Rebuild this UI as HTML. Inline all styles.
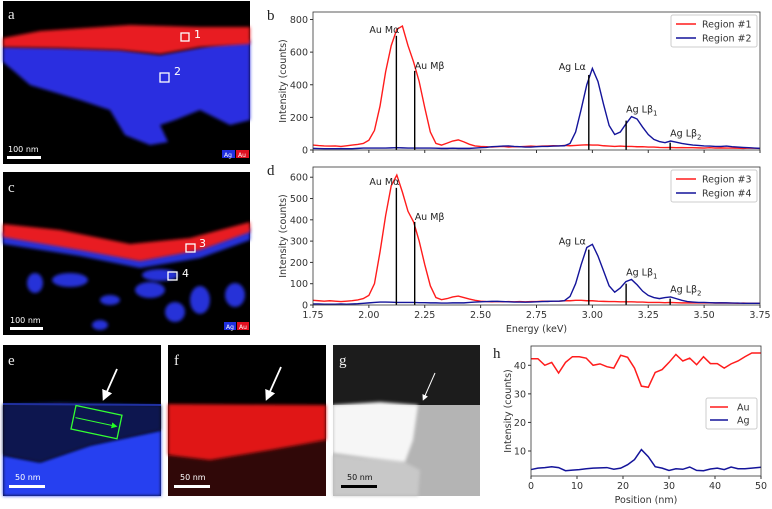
<!DOCTYPE html>
<html><head><meta charset="utf-8"><style>
body{margin:0;background:#fff;width:772px;height:509px;overflow:hidden}
svg{display:block;font-family:"DejaVu Sans","Liberation Sans",sans-serif}
.tk{font-size:9.5px;fill:#333}
.lt{font-family:"Liberation Serif",serif;font-size:15px;fill:#222}
.il{font-family:"Liberation Serif",serif;font-size:15px;fill:#eee}
</style></head><body>
<svg id="fig" width="772" height="509" viewBox="0 0 772 509">
<defs>
<filter id="bl" x="-10%" y="-10%" width="120%" height="120%"><feGaussianBlur stdDeviation="1.5"/></filter>
<filter id="bl3"><feGaussianBlur stdDeviation="3"/></filter>
<marker id="ah" markerWidth="6" markerHeight="6" refX="3" refY="3" orient="auto"><path d="M0,0L6,3L0,6z" fill="#fff"/></marker>
<marker id="ag" markerWidth="6" markerHeight="6" refX="3" refY="3" orient="auto"><path d="M0,0L6,3L0,6z" fill="#2f2"/></marker>
</defs>
<!-- panel a -->
<g>
<rect x="3" y="1" width="247" height="163" fill="#000"/>
<polygon filter="url(#bl)" fill="#2a2ee0" points="3,47 60,48 120,50 160,55 215,45 250,40 250,120 230,125 200,110 175,120 160,125 168,142 150,145 125,135 110,110 80,100 30,85 15,72 3,62"/>
<polygon filter="url(#bl)" fill="#e81a22" points="3,38 40,31 130,25 200,27 250,27 250,44 200,47 160,54 120,50 60,48 3,47"/>
<rect x="181" y="33" width="8" height="8" fill="none" stroke="#fff" stroke-width="1.3"/>
<text x="194" y="38" class="tk" style="fill:#fff;font-size:11px">1</text>
<rect x="160" y="73" width="9" height="9" fill="none" stroke="#fff" stroke-width="1.3"/>
<text x="174" y="75" class="tk" style="fill:#fff;font-size:11px">2</text>
<text x="8" y="19" class="il">a</text>
<rect x="7" y="156" width="34" height="3" fill="#fff"/>
<text x="8" y="152" class="tk" style="fill:#fff;font-size:8px">100 nm</text>
<rect x="222" y="150" width="13" height="8" fill="#2030e0"/><text x="224" y="157" style="fill:#fff;font-size:6px">Ag</text>
<rect x="236" y="150" width="13" height="8" fill="#e01020"/><text x="238" y="157" style="fill:#fff;font-size:6px">Au</text>
</g>
<!-- panel c -->
<g>
<rect x="3" y="172" width="247" height="163" fill="#000"/>
<g filter="url(#bl)" fill="#2530d8">
<polygon points="3,232 80,246 140,258 200,247 250,228 250,240 200,258 140,268 80,256 3,244"/>
<ellipse cx="70" cy="280" rx="18" ry="7"/><ellipse cx="150" cy="290" rx="15" ry="8"/><ellipse cx="200" cy="300" rx="10" ry="14"/>
<ellipse cx="35" cy="283" rx="8" ry="10"/><ellipse cx="110" cy="300" rx="10" ry="5"/><ellipse cx="175" cy="312" rx="10" ry="10"/>
<ellipse cx="235" cy="295" rx="10" ry="12"/><ellipse cx="100" cy="325" rx="8" ry="5"/><ellipse cx="160" cy="275" rx="18" ry="6"/>
</g>
<polygon filter="url(#bl)" fill="#e81a22" points="3,224 60,230 130,244 190,238 250,222 250,232 200,250 140,261 80,250 3,237"/>
<rect x="186" y="244" width="9" height="8" fill="none" stroke="#fff" stroke-width="1.3"/>
<text x="199" y="247" style="fill:#fff;font-size:11px">3</text>
<rect x="168" y="272" width="9" height="8" fill="none" stroke="#fff" stroke-width="1.3"/>
<text x="182" y="277" style="fill:#fff;font-size:11px">4</text>
<text x="8" y="192" class="il">c</text>
<rect x="10" y="327" width="33" height="3" fill="#fff"/>
<text x="10" y="323" style="fill:#fff;font-size:8px">100 nm</text>
<rect x="224" y="322" width="12" height="8" fill="#2030e0"/><text x="226" y="329" style="fill:#fff;font-size:6px">Ag</text>
<rect x="237" y="322" width="12" height="8" fill="#e01020"/><text x="239" y="329" style="fill:#fff;font-size:6px">Au</text>
</g>
<!-- panel e -->
<g>
<rect x="3" y="345" width="158" height="151" fill="#000"/>
<polygon filter="url(#bl)" fill="#2840f0" points="3,455 40,462 90,445 161,430 161,496 3,496"/>
<polygon filter="url(#bl)" fill="#0d1450" points="3,404 60,402 161,405 161,430 90,445 40,462 3,455"/>
<line x1="3" y1="404" x2="161" y2="405" stroke="#2030a0" stroke-width="2"/>
<g transform="rotate(12 96 422)"><rect x="73" y="410" width="47" height="24" fill="none" stroke="#3f3" stroke-width="1.3"/>
<line x1="75" y1="422" x2="115" y2="422" stroke="#3f3" stroke-width="1" marker-end="url(#ag)"/></g>
<line x1="117" y1="369" x2="105" y2="396" stroke="#fff" stroke-width="1.8" marker-end="url(#ah)"/>
<text x="8" y="365" class="il">e</text>
<rect x="9" y="485" width="36" height="3" fill="#fff"/>
<text x="15" y="480" style="fill:#fff;font-size:8px">50 nm</text>
</g>
<!-- panel f -->
<g>
<rect x="168" y="345" width="158" height="151" fill="#000"/>
<polygon fill="#300808" points="168,455 326,440 326,496 168,496"/>
<polygon filter="url(#bl)" fill="#e01818" points="168,404 326,405 326,440 270,450 210,460 168,455"/>
<line x1="281" y1="367" x2="268" y2="396" stroke="#fff" stroke-width="1.8" marker-end="url(#ah)"/>
<text x="174" y="365" class="il">f</text>
<rect x="174" y="485" width="36" height="3" fill="#fff"/>
<text x="180" y="480" style="fill:#fff;font-size:8px">50 nm</text>
</g>
<!-- panel g -->
<g>
<rect x="333" y="345" width="147" height="151" fill="#1c1c1c"/>
<rect x="333" y="405" width="147" height="91" fill="#b4b4b4"/>
<polygon filter="url(#bl)" fill="#c8c8c8" points="333,455 360,458 400,460 420,470 418,496 333,496"/>
<polygon filter="url(#bl)" fill="#f6f6f6" points="333,405 380,402 418,405 413,440 405,462 370,458 333,453"/>
<line x1="453" y1="405" x2="453" y2="496" stroke="#ccc" stroke-width="2" filter="url(#bl)"/>
<line x1="435" y1="373" x2="424" y2="398" stroke="#fff" stroke-width="1" marker-end="url(#ah)"/>
<text x="339" y="365" class="il">g</text>
<rect x="341" y="485" width="36" height="3" fill="#000"/>
<text x="347" y="480" style="fill:#111;font-size:8px">50 nm</text>
</g>
<g id="charts"></g>
</svg>
<script>
const energies=[1.75,1.775,1.8,1.825,1.85,1.875,1.9,1.925,1.95,1.975,2.0,2.025,2.05,2.075,2.1,2.125,2.15,2.175,2.2,2.225,2.25,2.275,2.3,2.325,2.35,2.375,2.4,2.425,2.45,2.475,2.5,2.525,2.55,2.575,2.6,2.625,2.65,2.675,2.7,2.725,2.75,2.775,2.8,2.825,2.85,2.875,2.9,2.925,2.95,2.975,3.0,3.025,3.05,3.075,3.1,3.125,3.15,3.175,3.2,3.225,3.25,3.275,3.3,3.325,3.35,3.375,3.4,3.425,3.45,3.475,3.5,3.525,3.55,3.575,3.6,3.625,3.65,3.675,3.7,3.725,3.75];
const region1=[30,27,25,24,25,22,26,30,34,40,60,120,270,480,640,740,760,640,540,420,260,110,40,30,42,55,62,50,35,25,22,20,18,20,22,18,20,20,22,24,22,24,25,26,25,28,26,28,30,32,30,30,26,24,22,24,22,22,20,20,18,18,16,15,16,14,15,14,14,13,12,14,12,13,12,12,11,10,12,11,10];
const region2=[10,9,8,8,8,9,8,8,10,12,12,12,12,12,13,14,13,12,12,12,12,12,11,10,10,11,10,10,10,12,14,16,20,22,24,25,22,20,18,18,20,22,22,24,25,26,40,110,250,400,500,420,280,150,95,110,160,205,190,140,95,65,52,45,55,48,40,35,30,28,25,24,22,22,24,20,18,16,14,12,10];
const region3=[22,20,18,20,18,16,18,20,24,30,45,100,250,420,560,610,530,440,390,300,190,90,35,25,30,38,42,35,28,22,18,16,15,16,15,16,15,16,15,16,16,18,17,18,18,20,20,22,22,20,20,18,17,16,16,15,15,15,14,14,12,12,12,11,12,11,10,10,10,10,10,10,9,10,9,9,8,9,8,8,8];
const region4=[5,5,4,4,4,5,4,5,6,8,10,12,14,14,13,12,12,12,12,11,11,10,10,9,9,10,10,10,12,14,15,16,17,17,16,15,14,14,13,14,15,16,17,18,18,20,40,100,190,270,285,230,160,90,60,80,110,120,95,65,45,35,30,35,38,30,22,16,14,12,12,11,10,10,10,9,9,8,8,8,8];
const peakNames=["Au M\u03b1","Au M\u03b2","Ag L\u03b1","Ag L\u03b2","Ag L\u03b2"];
const peakSubs=["","","","1","2"];
const peakEnergies=[2.123,2.205,2.984,3.151,3.348];
const peakHeightsB=[700,485,460,180,45];
const peakHeightsD=[550,390,260,100,30];
const yTicksB=[0,200,400,600,800];
const yTicksD=[0,100,200,300,400,500,600];
const xTicksE=[1.75,2.0,2.25,2.5,2.75,3.0,3.25,3.5,3.75];
const positions=[0,1.5,3,4.5,6,7.5,9,10.5,12,13.5,15,16.5,18,19.5,21,22.5,24,25.5,27,28.5,30,31.5,33,34.5,36,37.5,39,40.5,42,43.5,45,46.5,48,50];
const auLine=[42.3,42.3,40,41,37.3,41,43,43,42.5,40,40.5,39.5,39,43.5,42.8,39,32.7,32.3,37.5,38.5,41,43.8,41.5,42.5,40.2,43,40.6,40.6,39,40.5,41.5,43,44.3,44.3];
const agLine=[3.5,4,4.2,4.5,4.2,3.1,3.3,3.5,3.8,4,4.1,4.2,3.6,4,5.2,7,10.5,8,4.5,4,3.2,3.8,3.6,4.4,3.2,3.1,3.7,4,3.5,4.4,3.8,3.8,4,4.3];
const xTicksH=[0,10,20,30,40,50];
const yTicksH=[10,20,30,40];

const NS="http://www.w3.org/2000/svg";
const root=document.getElementById('charts');
function mk(tag,attrs,parent,text){const e=document.createElementNS(NS,tag);for(const k in attrs)e.setAttribute(k,attrs[k]);if(text!==undefined)e.textContent=text;(parent||root).appendChild(e);return e;}
const RED="#ff1c1c",BLUE="#14149a";

function spectrum(cfg){
  const g=mk('g',{});
  
  
  const {L,R,T,B,ymax}=cfg;
  const sx=v=>L+(v-1.75)/(3.75-1.75)*(R-L);
  const sy=v=>B-v/ymax*(B-T);
  [[cfg.s1,RED,cfg.n1],[cfg.s2,BLUE,cfg.n2]].forEach(([s,c,n])=>{
    const p=mk('polyline',{points:s.map((v,i)=>sx(energies[i])+','+sy(v)).join(' '),fill:'none',stroke:c,'stroke-width':1.4},g);
    
    
  });
  peakEnergies.forEach((e,i)=>{
    const x=sx(e);
    const ln=mk('line',{x1:x,x2:x,y1:B,y2:sy(cfg.ph[i]),stroke:'#000','stroke-width':1.4},g);
    
    
    const lx=[x-18,x+10,x-18,x+10,x+8][i], ly=sy(cfg.ph[i])-[22,4,6,8,6][i]+([0,0,0,0,0][i]);
    const ty=[sy(cfg.ph[0])-0,0,0,0,0];
    const t=mk('text',{x:lx,y:[sy(cfg.ph[0])-3,sy(cfg.ph[1])-2,sy(cfg.ph[2])-5,sy(cfg.ph[3])-8,sy(cfg.ph[4])-6][i],'font-size':9.5,fill:'#222','text-anchor':i==0||i==2?'end':'start'},g);
    t.setAttribute('x',[x+3,x,x-3,x,x][i]);
    
    
    t.textContent=peakNames[i];
    if(peakSubs[i]){const s=mk('tspan',{dy:3,'font-size':7},t,peakSubs[i]);}
  });
  mk('rect',{x:L,y:T,width:R-L,height:B-T,fill:'none',stroke:'#333','stroke-width':0.8},g);
  cfg.yt.forEach(v=>{const y=sy(v);mk('line',{x1:L-3,x2:L,y1:y,y2:y,stroke:'#333'},g);
    const t=mk('text',{x:L-5,y:y+3.5,'text-anchor':'end',class:'tk'},g,v);});
  xTicksE.forEach(v=>{const x=sx(v);mk('line',{x1:x,x2:x,y1:B,y2:B+3,stroke:'#333'},g);
    if(cfg.xl){const t=mk('text',{x:x,y:B+13,'text-anchor':'middle',class:'tk'},g,v.toFixed(2));}});
  const yl=mk('text',{x:0,y:0,transform:`translate(${L-27},${(T+B)/2}) rotate(-90)`,'text-anchor':'middle',class:'tk'},g,'Intensity (counts)');
  
  if(cfg.xl){const xl=mk('text',{x:(L+R)/2,y:B+27,'text-anchor':'middle',class:'tk'},g,'Energy (keV)');}
  const lt=mk('text',{x:L-46,y:T+8,class:'lt'},g,cfg.letter);
  const lg=mk('g',{},g);
  const lx=R-89,ly=T+3;
  mk('rect',{x:lx,y:ly,width:86,height:32,fill:'#fff',stroke:'#ccc',rx:2},lg);
  [[RED,cfg.n1],[BLUE,cfg.n2]].forEach(([c,n],i)=>{
    mk('line',{x1:lx+5,x2:lx+25,y1:ly+9+i*14,y2:ly+9+i*14,stroke:c,'stroke-width':1.5},lg);
    const t=mk('text',{x:lx+31,y:ly+12.5+i*14,class:'tk'},lg,n);
  });
}
spectrum({name:'chart-b-spectrum',L:313,R:760,T:12,B:150,ymax:846,s1:region1,s2:region2,n1:'Region #1',n2:'Region #2',ph:peakHeightsB,yt:yTicksB,xl:false,letter:'b'});
spectrum({name:'chart-d-spectrum',L:313,R:760,T:167,B:305,ymax:648,s1:region3,s2:region4,n1:'Region #3',n2:'Region #4',ph:peakHeightsD,yt:yTicksD,xl:true,letter:'d'});

// chart h
(function(){
  const g=mk('g',{});
  
  
  const L=531,R=761,T=346,B=476,ymin=1.25,ymax=46.75;
  const sx=v=>L+v/50*(R-L), sy=v=>B-(v-ymin)/(ymax-ymin)*(B-T);
  [[auLine,RED,'au'],[agLine,BLUE,'ag']].forEach(([s,c,n])=>{
    const p=mk('polyline',{points:s.map((v,i)=>sx(positions[i])+','+sy(v)).join(' '),fill:'none',stroke:c,'stroke-width':1.5},g);
    
    
  });
  mk('rect',{x:L,y:T,width:R-L,height:B-T,fill:'none',stroke:'#333','stroke-width':0.8},g);
  yTicksH.forEach(v=>{const y=sy(v);mk('line',{x1:L-3,x2:L,y1:y,y2:y,stroke:'#333'},g);
    const t=mk('text',{x:L-5,y:y+3.5,'text-anchor':'end',class:'tk'},g,v);});
  xTicksH.forEach(v=>{const x=sx(v);mk('line',{x1:x,x2:x,y1:B,y2:B+3,stroke:'#333'},g);
    const t=mk('text',{x:x,y:B+13,'text-anchor':'middle',class:'tk'},g,v);});
  const yl=mk('text',{x:0,y:0,transform:`translate(${L-20},${(T+B)/2}) rotate(-90)`,'text-anchor':'middle',class:'tk'},g,'Intensity (counts)');
  
  const xl=mk('text',{x:(L+R)/2,y:B+27,'text-anchor':'middle',class:'tk'},g,'Position (nm)');
  
  const lt=mk('text',{x:L-38,y:T+12,class:'lt'},g,'h');
  const lg=mk('g',{},g);
  mk('rect',{x:706,y:398,width:51,height:31,fill:'#fff',stroke:'#ccc',rx:2},lg);
  [[RED,'Au'],[BLUE,'Ag']].forEach(([c,n],i)=>{
    mk('line',{x1:710,x2:728,y1:407+i*13,y2:407+i*13,stroke:c,'stroke-width':1.5},lg);
    const t=mk('text',{x:737,y:410.5+i*13,class:'tk'},lg,n);
  });
})();
</script>
</body></html>
